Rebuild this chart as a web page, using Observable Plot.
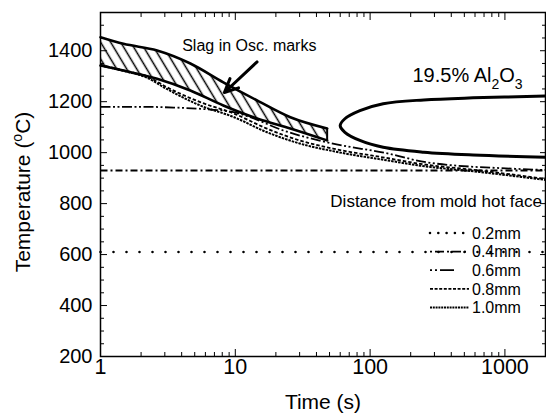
<!DOCTYPE html>
<html><head><meta charset="utf-8">
<script src="https://cdn.jsdelivr.net/npm/d3@7"></script>
<script src="https://cdn.jsdelivr.net/npm/@observablehq/plot@0.6"></script>
<style>
html,body{margin:0;padding:0;background:#fff;}
#chart{position:relative;width:546px;height:413px;}
</style></head><body><div id="chart"></div>
<script>
// ---------- data ----------
const xMajor = [1, 10, 100, 1000];
const xMinor = [2,3,4,5,6,7,8,9,20,30,40,50,60,70,80,90,200,300,400,500,600,700,800,900,2000];
const yMajor = [200, 400, 600, 800, 1000, 1200, 1400];
const yMinor = [250,300,350,450,500,550,650,700,750,850,900,950,1050,1100,1150,1250,1300,1350,1450,1500];

const bandX     = [1, 1.48, 2.63, 4.64, 8.15, 14.5, 25.6, 48];
const bandUpper = [1453, 1427, 1401, 1350, 1276, 1205, 1139, 1095];
const bandLower = [1342, 1322, 1290, 1244, 1185, 1134, 1095, 1048];

const d02X = [1, 2000];
const d02Y = [610, 610];
const d04X = [1, 2000];
const d04Y = [930, 930];
const d06X = [1, 2, 3.5, 5.5, 9.7, 12.9, 22.7, 47.5, 140, 262, 1150, 2000];
const d06Y = [1180, 1180, 1177, 1172, 1159, 1139, 1087, 1041, 995, 962, 937, 932];
const d08X = [1, 1.5, 2.2, 3.1, 5.5, 9.7, 17.2, 30, 53, 140, 235, 650, 2000];
const d08Y = [1345, 1322, 1300, 1257, 1198, 1154, 1094, 1048, 1016, 977, 956, 930, 897];
const d10X = [1, 1.5, 2.2, 3.1, 5.5, 9.7, 17.2, 30, 53, 140, 235, 650, 2000];
const d10Y = [1342, 1320, 1295, 1250, 1185, 1140, 1080, 1036, 1006, 968, 949, 924, 893];

const ellX = [2000, 580, 250, 125, 84, 65, 60, 65, 84, 125, 250, 580, 2000];
const ellY = [1222, 1215, 1207, 1192, 1165, 1133, 1106, 1080, 1048, 1021, 1002, 991, 982];

const arrowFrom = [14.5, 1356];
const arrowTo   = [8.3, 1236];
const slagLabel = "Slag in Osc. marks";
const slagPos   = [12.7, 1420];
const alLabelParts = ["19.5% Al", "2", "O", "3"];
const alPos = [208, 1275];

const legendTitle = "Distance from mold hot face";
const legendLabels = ["0.2mm", "0.4mm", "0.6mm", "0.8mm", "1.0mm"];
const xTitle = "Time (s)";
const yTitleParts = ["Temperature (", "o", "C)"];

// ---------- styles ----------
const FONT = "'Liberation Sans', Arial, Helvetica, sans-serif";
const lineStyles = [
  {dash: "0 13", width: 2.6, cap: "round", legendDash: "0 8.3"},
  {dash: "7 3 2 3", width: 1.8, cap: "butt", legendDash: "2 3 9 3"},
  {dash: "10 2.5 2 2.5 2 2.5", width: 1.8, cap: "butt", legendDash: "2 3 2 3 14 100"},
  {dash: "3.5 2", width: 1.8, cap: "butt", legendDash: "3 1.6"},
  {dash: "2.5 1", width: 2.0, cap: "butt", legendDash: "2 0.8"}
];

const tab = (xs, ys) => xs.map((x, i) => ({x, y: ys[i]}));
const series = [tab(d02X, d02Y), tab(d04X, d04Y), tab(d06X, d06Y), tab(d08X, d08Y), tab(d10X, d10Y)];
const bandData = bandX.map((x, i) => ({x, lo: bandLower[i], hi: bandUpper[i]}));
const ellData = tab(ellX, ellY);

const blank = () => "";

const plot = Plot.plot({
  width: 546, height: 413,
  marginLeft: 100, marginRight: 1, marginTop: 12, marginBottom: 57,
  style: {fontFamily: FONT, fontSize: "20px", color: "#000", background: "#fff", overflow: "visible"},
  x: {type: "log", domain: [1, 2000]},
  y: {domain: [200, 1550]},
  marks: [
    Plot.areaY(bandData, {x: "x", y1: "lo", y2: "hi", fill: "url(#hatch)", curve: "monotone-x"}),
    ...series.map((s, i) => Plot.line(s, {x: "x", y: "y", stroke: "#000", strokeWidth: lineStyles[i].width,
      strokeDasharray: lineStyles[i].dash, strokeLinecap: lineStyles[i].cap, curve: "monotone-x"})),
    Plot.line(bandData, {x: "x", y: "hi", stroke: "#000", strokeWidth: 2.6, curve: "monotone-x"}),
    Plot.line(bandData, {x: "x", y: "lo", stroke: "#000", strokeWidth: 2.6, curve: "monotone-x"}),
    Plot.ruleX(bandData.slice(-1), {x: "x", y1: "lo", y2: "hi", stroke: "#000", strokeWidth: 2}),
    Plot.line(ellData, {x: "x", y: "y", stroke: "#000", strokeWidth: 3, curve: "catmull-rom"}),
    Plot.arrow([0], {x1: [arrowFrom[0]], y1: [arrowFrom[1]], x2: [arrowTo[0]], y2: [arrowTo[1]],
      stroke: "#000", strokeWidth: 3, headLength: 11, headAngle: 50}),
    Plot.text([0], {x: [slagPos[0]], y: [slagPos[1]], text: [slagLabel], fontSize: 16, fill: "#000",
      textAnchor: "middle", lineAnchor: "middle"}),
    Plot.frame({stroke: "#000", strokeWidth: 1.5}),
    Plot.axisX({anchor: "bottom", ticks: xMajor, tickSize: -7, tickPadding: 9.5, tickFormat: d => String(d), label: null, fontSize: 21.5}),
    Plot.axisX({anchor: "bottom", ticks: xMinor, tickSize: -4, tickFormat: blank, label: null}),
    Plot.axisX({anchor: "top", ticks: xMajor, tickSize: -7, tickFormat: blank, label: null}),
    Plot.axisX({anchor: "top", ticks: xMinor, tickSize: -4, tickFormat: blank, label: null}),
    Plot.axisY({anchor: "left", ticks: yMajor, tickSize: -7, tickPadding: 15, tickFormat: d => String(d), label: null, fontSize: 20}),
    Plot.axisY({anchor: "left", ticks: yMinor, tickSize: -4, tickFormat: blank, label: null}),
    Plot.axisY({anchor: "right", ticks: yMajor, tickSize: -6, tickFormat: blank, label: null}),
    Plot.axisY({anchor: "right", ticks: yMinor, tickSize: -4, tickFormat: blank, label: null})
  ]
});

const svg = d3.select(plot);
const defs = svg.insert("defs", ":first-child");
const pat = defs.append("pattern").attr("id", "hatch").attr("patternUnits", "userSpaceOnUse")
  .attr("width", 8.6).attr("height", 8.6).attr("patternTransform", "rotate(-31)");
pat.append("line").attr("x1", 4.3).attr("y1", -1).attr("x2", 4.3).attr("y2", 9.6)
  .attr("stroke", "#000").attr("stroke-width", 1.5);

const sx = plot.scale("x"), sy = plot.scale("y");

// Al2O3 annotation
const at = svg.append("text").attr("x", sx.apply(alPos[0])).attr("y", sy.apply(alPos[1]))
  .attr("text-anchor", "start")
  .attr("font-family", FONT).attr("font-size", 20).attr("fill", "#000");
at.append("tspan").text(alLabelParts[0]);
at.append("tspan").attr("font-size", 14).attr("dy", 7).text(alLabelParts[1]);
at.append("tspan").attr("dy", -7).text(alLabelParts[2]);
at.append("tspan").attr("font-size", 14).attr("dy", 7).text(alLabelParts[3]);

// axis titles
svg.append("text").attr("x", 323).attr("y", 409).attr("text-anchor", "middle")
  .attr("font-family", FONT).attr("font-size", 21).attr("fill", "#000").text(xTitle);
const yt = svg.append("text").attr("transform", "translate(29.5,192) rotate(-90)").attr("text-anchor", "middle")
  .attr("font-family", FONT).attr("font-size", 21).attr("fill", "#000");
yt.append("tspan").text(yTitleParts[0]);
yt.append("tspan").attr("font-size", 14).attr("dy", -8).text(yTitleParts[1]);
yt.append("tspan").attr("dy", 8).text(yTitleParts[2]);

// legend
const lg = svg.append("g").attr("font-family", FONT).attr("fill", "#000").attr("text-anchor", "start");
lg.append("text").attr("x", 542).attr("y", 207).attr("text-anchor", "end").attr("font-size", 17).text(legendTitle);
legendLabels.forEach((lab, i) => {
  const y = 233 + i * 18.6;
  const st = lineStyles[i];
  lg.append("line").attr("x1", 430).attr("x2", 469).attr("y1", y).attr("y2", y)
    .attr("stroke", "#000").attr("stroke-width", st.width).attr("stroke-linecap", st.cap)
    .attr("stroke-dasharray", st.legendDash);
  lg.append("text").attr("x", 472).attr("y", y).attr("dy", "0.36em").attr("text-anchor", "start")
    .attr("font-size", 16).text(lab);
});

document.getElementById("chart").appendChild(plot);
</script>
</body></html>
